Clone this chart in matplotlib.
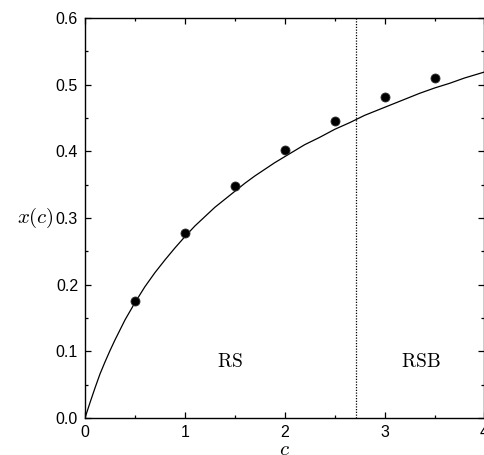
import matplotlib
matplotlib.use("Agg")
import matplotlib.pyplot as plt
from matplotlib.ticker import MultipleLocator, FormatStrFormatter

# Curve
curve_c = [0, 0.05, 0.1, 0.15, 0.2, 0.25, 0.3, 0.4, 0.5, 0.6, 0.7, 0.8, 0.9,
           1.0, 1.1, 1.2, 1.3, 1.4, 1.5, 1.6, 1.7, 1.8, 1.9, 2.0, 2.1, 2.2,
           2.35, 2.5, 2.65, 2.8, 3.0, 3.2, 3.35, 3.5, 3.65, 3.8, 4.0]
curve_x = [0, 0.023, 0.045, 0.066, 0.084, 0.101, 0.117, 0.147, 0.173, 0.197,
           0.218, 0.237, 0.255, 0.272, 0.288, 0.302, 0.316, 0.328, 0.340,
           0.352, 0.363, 0.373, 0.383, 0.392, 0.401, 0.410, 0.421, 0.433,
           0.443, 0.454, 0.466, 0.478, 0.487, 0.495, 0.502, 0.510, 0.519]

# Data points
pts_c = [0.5, 1.0, 1.5, 2.0, 2.5, 3.0, 3.5]
pts_x = [0.175, 0.277, 0.348, 0.402, 0.445, 0.481, 0.510]

# Transition line
c_transition = 2.718

region_labels = ["RS", "RSB"]
region_pos_c = [1.45, 3.36]
region_pos_x = [0.084, 0.084]

plt.rcParams['mathtext.fontset'] = 'cm'
plt.rcParams['font.family'] = ['Liberation Sans', 'DejaVu Sans']

fig = plt.figure(figsize=(4.85, 4.55), dpi=100)
ax = fig.add_axes([85/485, 37/455, 399.5/485, 400/455])

ax.plot(curve_c, curve_x, color='black', lw=0.9)
ax.plot(pts_c, pts_x, 'o', color='black', ms=6.5, mec='#333333', mew=0.6)
ax.axvline(c_transition, color='black', ls=(0, (1.0, 1.2)), lw=0.9)

for lab, xc, yc in zip(region_labels, region_pos_c, region_pos_x):
    ax.text(xc, yc, r'$\mathrm{' + lab + '}$', fontsize=14, ha='center', va='center')

ax.set_xlim(0, 4)
ax.set_ylim(0, 0.6)
ax.xaxis.set_major_locator(MultipleLocator(1))
ax.xaxis.set_minor_locator(MultipleLocator(0.5))
ax.yaxis.set_major_locator(MultipleLocator(0.1))
ax.yaxis.set_minor_locator(MultipleLocator(0.05))
ax.xaxis.set_major_formatter(FormatStrFormatter('%d'))
ax.yaxis.set_major_formatter(FormatStrFormatter('%.1f'))
ax.tick_params(which='both', direction='in', top=True, right=True, labelsize=11.5,
               width=0.9, color='black')
ax.tick_params(which='major', length=4.2, pad=5)
ax.tick_params(which='minor', length=2.3)
for s in ax.spines.values():
    s.set_linewidth(1.0)

ax.set_xlabel(r'$c$', fontsize=15, labelpad=0)
ax.set_ylabel(r'$x(c)$', fontsize=15, rotation=0, ha='center', va='center')
ax.yaxis.set_label_coords(-0.125, 0.5)

fig.savefig('out.png', dpi=100)
